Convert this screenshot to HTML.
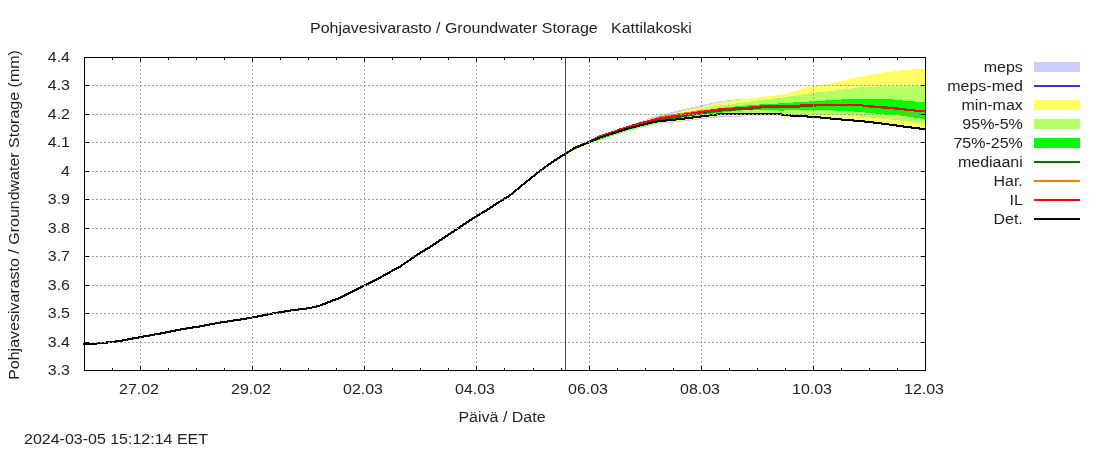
<!DOCTYPE html>
<html><head><meta charset="utf-8"><title>Pohjavesivarasto</title>
<style>
html,body{margin:0;padding:0;background:#fff;}
svg{display:block;}
text{font-family:"Liberation Sans",sans-serif;font-size:16px;fill:#1e1e1e;}
</style></head><body>
<svg width="1100" height="450" viewBox="0 0 1100 450">
<rect width="1100" height="450" fill="#fff"/>
<g shape-rendering="crispEdges">
<polygon points="565,154.0 566,153.3 567,152.7 568,152.1 569,151.4 570,150.8 571,150.1 572,149.4 573,148.8 574,148.2 575,147.5 576,147.1 577,146.6 578,146.2 579,145.7 580,145.3 581,144.8 582,144.4 583,144.0 584,143.5 585,143.1 586,142.6 587,142.2 588,141.7 589,141.3 590,140.8 591,140.3 592,139.9 593,139.4 594,138.9 595,138.4 596,137.9 597,137.4 598,137.0 599,136.5 600,136.0 601,135.7 602,135.3 603,135.0 604,134.6 605,134.3 606,134.0 607,133.6 608,133.3 609,132.9 610,132.6 611,132.3 612,131.9 613,131.6 614,131.2 615,130.9 616,130.6 617,130.2 618,129.9 619,129.5 620,129.2 621,128.9 622,128.5 623,128.2 624,127.8 625,127.5 626,127.2 627,126.8 628,126.5 629,126.1 630,125.7 631,125.3 632,124.9 633,124.5 634,124.1 635,123.7 636,123.3 637,122.9 638,122.5 639,122.0 640,121.6 641,121.3 642,120.9 643,120.5 644,120.2 645,119.8 646,119.4 647,119.0 648,118.7 649,118.3 650,117.9 651,117.6 652,117.2 653,116.9 654,116.6 655,116.3 656,116.0 657,115.8 658,115.5 659,115.3 660,115.0 661,114.8 662,114.5 663,114.3 664,114.0 665,113.8 666,113.5 667,113.3 668,113.0 669,112.8 670,112.5 671,112.3 672,112.0 673,111.8 674,111.5 675,111.3 676,111.0 677,110.8 678,110.6 679,110.3 680,110.1 681,109.8 682,109.6 683,109.4 684,109.1 685,108.9 686,108.7 687,108.4 688,108.2 689,108.0 690,107.7 691,107.5 692,107.3 693,107.0 694,106.8 695,106.6 696,106.4 697,106.1 698,105.9 699,105.7 700,105.4 701,105.2 702,105.0 703,104.8 704,104.6 705,104.4 706,104.2 707,104.0 708,103.8 709,103.5 710,103.3 711,103.1 712,102.9 713,102.7 714,102.5 715,102.3 716,102.1 717,101.9 718,101.6 719,101.4 720,101.2 721,101.1 722,101.0 723,100.9 724,100.8 725,100.6 726,100.5 727,100.4 728,100.3 729,100.1 730,100.0 731,99.9 732,99.7 733,99.6 734,99.5 735,99.3 736,99.2 737,99.1 738,99.0 739,98.8 740,98.7 741,98.6 742,98.5 743,98.4 743,116.8 742,116.8 741,116.8 740,116.8 739,116.8 738,116.8 737,116.8 736,116.8 735,116.8 734,116.8 733,116.8 732,116.9 731,116.9 730,116.9 729,116.9 728,116.9 727,116.9 726,116.9 725,116.9 724,116.9 723,116.9 722,116.9 721,116.9 720,116.9 719,117.0 718,117.1 717,117.3 716,117.4 715,117.5 714,117.6 713,117.7 712,117.9 711,118.0 710,118.1 709,118.2 708,118.4 707,118.5 706,118.6 705,118.7 704,118.8 703,119.0 702,119.1 701,119.2 700,119.3 699,119.5 698,119.6 697,119.7 696,119.9 695,120.0 694,120.1 693,120.2 692,120.4 691,120.5 690,120.6 689,120.8 688,120.9 687,121.0 686,121.2 685,121.3 684,121.4 683,121.5 682,121.6 681,121.7 680,121.8 679,122.0 678,122.1 677,122.2 676,122.3 675,122.4 674,122.5 673,122.6 672,122.7 671,122.8 670,122.9 669,123.0 668,123.1 667,123.1 666,123.2 665,123.3 664,123.4 663,123.5 662,123.6 661,123.7 660,123.8 659,124.0 658,124.2 657,124.3 656,124.5 655,124.7 654,124.9 653,125.1 652,125.2 651,125.4 650,125.6 649,125.8 648,126.1 647,126.3 646,126.6 645,126.8 644,127.1 643,127.3 642,127.6 641,127.8 640,128.1 639,128.4 638,128.6 637,128.9 636,129.1 635,129.4 634,129.7 633,129.9 632,130.2 631,130.4 630,130.7 629,131.0 628,131.3 627,131.6 626,131.9 625,132.2 624,132.5 623,132.8 622,133.1 621,133.4 620,133.7 619,134.0 618,134.4 617,134.7 616,135.0 615,135.4 614,135.6 613,135.8 612,136.1 611,136.3 610,136.5 609,136.8 608,137.0 607,137.2 606,137.5 605,137.7 604,138.0 603,138.2 602,138.4 601,138.7 600,138.9 599,139.2 598,139.6 597,139.9 596,140.2 595,140.6 594,140.9 593,141.2 592,141.6 591,141.9 590,142.2 589,142.6 588,142.9 587,143.2 586,143.5 585,143.8 584,144.2 583,144.6 582,145.0 581,145.4 580,145.8 579,146.2 578,146.6 577,147.0 576,147.4 575,147.8 574,148.4 573,149.0 572,149.7 571,150.3 570,150.9 569,151.5 568,152.1 567,152.8 566,153.4 565,154.0" fill="#ccccff"/>
<polygon points="565,154.0 566,153.3 567,152.7 568,152.1 569,151.4 570,150.8 571,150.1 572,149.4 573,148.8 574,148.2 575,147.5 576,147.1 577,146.6 578,146.2 579,145.7 580,145.3 581,144.8 582,144.4 583,144.0 584,143.5 585,143.1 586,142.6 587,142.2 588,141.7 589,141.3 590,140.8 591,140.3 592,139.9 593,139.4 594,138.9 595,138.4 596,137.9 597,137.4 598,137.0 599,136.5 600,136.0 601,135.7 602,135.3 603,135.0 604,134.6 605,134.3 606,134.0 607,133.6 608,133.3 609,132.9 610,132.6 611,132.3 612,131.9 613,131.6 614,131.2 615,130.9 616,130.6 617,130.2 618,129.9 619,129.5 620,129.2 621,128.9 622,128.5 623,128.2 624,127.8 625,127.5 626,127.2 627,126.8 628,126.5 629,126.1 630,125.8 631,125.5 632,125.1 633,124.8 634,124.4 635,124.1 636,123.8 637,123.4 638,123.1 639,122.7 640,122.4 641,122.1 642,121.8 643,121.5 644,121.2 645,120.9 646,120.5 647,120.2 648,119.9 649,119.6 650,119.3 651,119.0 652,118.7 653,118.5 654,118.2 655,118.0 656,117.7 657,117.5 658,117.2 659,117.0 660,116.7 661,116.5 662,116.2 663,116.0 664,115.7 665,115.5 666,115.2 667,115.0 668,114.7 669,114.5 670,114.2 671,114.0 672,113.7 673,113.5 674,113.2 675,113.0 676,112.7 677,112.5 678,112.3 679,112.0 680,111.8 681,111.5 682,111.3 683,111.1 684,110.8 685,110.6 686,110.4 687,110.1 688,109.9 689,109.7 690,109.4 691,109.2 692,109.0 693,108.8 694,108.5 695,108.3 696,108.1 697,107.8 698,107.6 699,107.4 700,107.1 701,106.9 702,106.7 703,106.4 704,106.2 705,105.9 706,105.7 707,105.4 708,105.2 709,104.9 710,104.7 711,104.4 712,104.2 713,103.9 714,103.7 715,103.4 716,103.2 717,102.9 718,102.7 719,102.4 720,102.2 721,102.1 722,101.9 723,101.8 724,101.7 725,101.5 726,101.4 727,101.3 728,101.2 729,101.0 730,100.9 731,100.8 732,100.6 733,100.5 734,100.4 735,100.2 736,100.1 737,100.0 738,99.9 739,99.7 740,99.6 741,99.5 742,99.4 743,99.3 744,99.2 745,99.0 746,98.9 747,98.8 748,98.7 749,98.6 750,98.5 751,98.4 752,98.3 753,98.2 754,98.1 755,98.0 756,97.8 757,97.7 758,97.6 759,97.5 760,97.4 761,97.2 762,97.1 763,96.9 764,96.8 765,96.6 766,96.4 767,96.3 768,96.1 769,96.0 770,95.8 771,95.7 772,95.7 773,95.6 774,95.6 775,95.5 776,95.4 777,95.4 778,95.3 779,95.3 780,95.2 781,95.0 782,94.7 783,94.5 784,94.2 785,94.0 786,93.8 787,93.5 788,93.3 789,93.0 790,92.8 791,92.4 792,92.0 793,91.7 794,91.3 795,90.9 796,90.5 797,90.1 798,89.8 799,89.4 800,89.0 801,88.8 802,88.5 803,88.3 804,88.1 805,87.8 806,87.6 807,87.4 808,87.2 809,86.9 810,86.7 811,86.5 812,86.2 813,86.0 814,85.9 815,85.7 816,85.6 817,85.4 818,85.3 819,85.1 820,85.0 821,84.8 822,84.7 823,84.5 824,84.4 825,84.2 826,84.1 827,83.9 828,83.8 829,83.6 830,83.5 831,83.3 832,83.0 833,82.8 834,82.6 835,82.4 836,82.2 837,81.9 838,81.7 839,81.5 840,81.2 841,81.0 842,80.8 843,80.6 844,80.3 845,80.1 846,79.9 847,79.7 848,79.5 849,79.2 850,79.0 851,78.8 852,78.6 853,78.4 854,78.2 855,78.0 856,77.8 857,77.6 858,77.4 859,77.2 860,77.0 861,76.8 862,76.6 863,76.4 864,76.2 865,76.0 866,75.8 867,75.6 868,75.4 869,75.2 870,75.0 871,74.8 872,74.6 873,74.4 874,74.2 875,74.0 876,73.8 877,73.6 878,73.4 879,73.2 880,73.0 881,72.9 882,72.8 883,72.6 884,72.5 885,72.4 886,72.2 887,72.1 888,72.0 889,71.9 890,71.8 891,71.6 892,71.5 893,71.4 894,71.2 895,71.1 896,71.0 897,70.9 898,70.8 899,70.6 900,70.5 901,70.4 902,70.3 903,70.2 904,70.1 905,70.0 906,69.9 907,69.8 908,69.7 909,69.6 910,69.5 911,69.4 912,69.3 913,69.2 914,69.1 915,69.0 916,69.0 917,69.0 918,69.0 919,69.0 920,69.0 921,69.0 922,69.0 923,69.0 924,69.0 925,69.0 925,129.5 924,129.4 923,129.3 922,129.2 921,129.1 920,129.0 919,128.9 918,128.8 917,128.7 916,128.6 915,128.5 914,128.4 913,128.2 912,128.1 911,128.0 910,127.8 909,127.7 908,127.6 907,127.4 906,127.3 905,127.2 904,127.0 903,126.9 902,126.8 901,126.6 900,126.5 899,126.4 898,126.2 897,126.1 896,126.0 895,125.8 894,125.7 893,125.6 892,125.4 891,125.3 890,125.2 889,125.0 888,124.9 887,124.7 886,124.6 885,124.5 884,124.3 883,124.2 882,124.1 881,123.9 880,123.8 879,123.7 878,123.6 877,123.5 876,123.3 875,123.2 874,123.1 873,123.0 872,122.9 871,122.8 870,122.7 869,122.5 868,122.4 867,122.3 866,122.2 865,122.1 864,122.0 863,121.8 862,121.7 861,121.6 860,121.5 859,121.4 858,121.3 857,121.3 856,121.2 855,121.1 854,121.0 853,120.9 852,120.9 851,120.8 850,120.7 849,120.6 848,120.5 847,120.5 846,120.4 845,120.3 844,120.2 843,120.1 842,120.0 841,119.9 840,119.8 839,119.8 838,119.7 837,119.6 836,119.5 835,119.4 834,119.3 833,119.2 832,119.1 831,119.0 830,118.9 829,118.8 828,118.7 827,118.6 826,118.5 825,118.4 824,118.3 823,118.2 822,118.1 821,118.0 820,117.9 819,117.8 818,117.7 817,117.6 816,117.5 815,117.4 814,117.3 813,117.2 812,117.2 811,117.1 810,117.1 809,117.0 808,117.0 807,116.9 806,116.9 805,116.8 804,116.8 803,116.8 802,116.7 801,116.7 800,116.6 799,117.9 798,117.8 797,117.8 796,117.7 795,117.6 794,117.6 793,117.5 792,117.4 791,117.3 790,117.3 789,117.2 788,117.1 787,117.0 786,117.0 785,116.9 784,116.8 783,116.6 782,116.4 781,116.3 780,116.1 779,115.9 778,115.9 777,115.9 776,115.9 775,115.9 774,115.9 773,115.9 772,115.9 771,115.9 770,115.9 769,115.8 768,115.8 767,115.8 766,115.8 765,115.8 764,115.8 763,115.8 762,115.8 761,115.8 760,115.8 759,115.8 758,115.8 757,115.8 756,115.8 755,115.8 754,115.8 753,115.8 752,115.8 751,115.8 750,115.8 749,115.8 748,115.8 747,115.8 746,115.8 745,115.8 744,115.8 743,115.8 742,115.8 741,115.8 740,115.8 739,115.8 738,115.8 737,115.8 736,115.8 735,115.8 734,115.8 733,115.8 732,115.9 731,115.9 730,115.9 729,115.9 728,115.9 727,115.9 726,115.9 725,115.9 724,115.9 723,115.9 722,115.9 721,115.9 720,115.9 719,116.0 718,116.1 717,116.3 716,116.4 715,116.5 714,116.6 713,116.7 712,116.9 711,117.0 710,117.1 709,117.2 708,117.4 707,117.5 706,117.6 705,117.7 704,117.8 703,118.0 702,118.1 701,118.2 700,118.3 699,118.5 698,118.6 697,118.7 696,118.9 695,119.0 694,119.1 693,119.2 692,119.4 691,119.5 690,119.6 689,119.8 688,119.9 687,120.0 686,120.2 685,120.3 684,120.4 683,120.5 682,120.6 681,120.7 680,120.8 679,121.0 678,121.1 677,121.2 676,121.3 675,121.4 674,121.5 673,121.6 672,121.7 671,121.8 670,121.9 669,122.0 668,122.1 667,122.1 666,122.2 665,122.4 664,122.5 663,122.7 662,122.9 661,123.0 660,123.2 659,123.3 658,123.5 657,123.6 656,123.8 655,124.0 654,124.1 653,124.3 652,124.4 651,124.6 650,124.8 649,125.1 648,125.3 647,125.5 646,125.7 645,126.0 644,126.2 643,126.4 642,126.6 641,126.9 640,127.1 639,127.4 638,127.7 637,128.0 636,128.3 635,128.6 634,128.9 633,129.2 632,129.5 631,129.8 630,130.1 629,130.3 628,130.6 627,130.9 626,131.2 625,131.5 624,131.8 623,132.1 622,132.4 621,132.7 620,133.0 619,133.3 618,133.7 617,134.1 616,134.4 615,134.8 614,135.1 613,135.4 612,135.8 611,136.2 610,136.5 609,136.8 608,137.2 607,137.6 606,137.9 605,138.2 604,138.6 603,138.9 602,139.3 601,139.7 600,140.0 599,140.3 598,140.6 597,140.9 596,141.2 595,141.5 594,141.9 593,142.3 592,142.7 591,143.1 590,143.6 589,144.0 588,144.4 587,144.8 586,145.2 585,145.6 584,146.0 583,146.4 582,146.8 581,147.2 580,147.6 579,148.0 578,148.4 577,148.8 576,149.2 575,149.6 574,150.2 573,150.8 572,151.5 571,152.1 570,152.7 569,153.3 568,153.9 567,154.6 566,155.2 565,155.8" fill="#ffff64"/>
<polygon points="565,154.0 566,153.3 567,152.7 568,152.1 569,151.4 570,150.8 571,150.1 572,149.4 573,148.8 574,148.2 575,147.5 576,147.1 577,146.6 578,146.2 579,145.8 580,145.3 581,144.9 582,144.4 583,144.0 584,143.6 585,143.1 586,142.7 587,142.3 588,141.8 589,141.4 590,140.9 591,140.5 592,140.0 593,139.5 594,139.0 595,138.6 596,138.1 597,137.6 598,137.1 599,136.7 600,136.2 601,135.9 602,135.5 603,135.2 604,134.9 605,134.6 606,134.2 607,133.9 608,133.6 609,133.2 610,132.9 611,132.6 612,132.2 613,131.9 614,131.5 615,131.2 616,130.9 617,130.5 618,130.2 619,129.8 620,129.5 621,129.2 622,128.8 623,128.5 624,128.2 625,127.8 626,127.5 627,127.2 628,126.9 629,126.5 630,126.2 631,125.9 632,125.5 633,125.2 634,124.9 635,124.6 636,124.2 637,123.9 638,123.6 639,123.2 640,122.9 641,122.7 642,122.4 643,122.2 644,121.9 645,121.7 646,121.4 647,121.2 648,120.9 649,120.7 650,120.4 651,120.2 652,120.0 653,119.8 654,119.5 655,119.3 656,119.1 657,118.9 658,118.7 659,118.5 660,118.2 661,118.0 662,117.8 663,117.6 664,117.4 665,117.2 666,116.9 667,116.7 668,116.5 669,116.3 670,116.1 671,115.8 672,115.6 673,115.4 674,115.2 675,115.0 676,114.8 677,114.5 678,114.3 679,114.1 680,113.9 681,113.7 682,113.5 683,113.2 684,113.0 685,112.8 686,112.6 687,112.4 688,112.2 689,112.0 690,111.8 691,111.6 692,111.4 693,111.2 694,110.9 695,110.7 696,110.5 697,110.3 698,110.1 699,109.9 700,109.7 701,109.5 702,109.3 703,109.1 704,108.9 705,108.7 706,108.4 707,108.2 708,108.0 709,107.8 710,107.6 711,107.4 712,107.2 713,107.0 714,106.8 715,106.6 716,106.3 717,106.1 718,105.9 719,105.7 720,105.5 721,105.4 722,105.2 723,105.1 724,105.0 725,104.9 726,104.8 727,104.6 728,104.5 729,104.4 730,104.2 731,104.1 732,104.0 733,103.9 734,103.8 735,103.6 736,103.5 737,103.4 738,103.2 739,103.1 740,103.0 741,102.9 742,102.7 743,102.6 744,102.5 745,102.3 746,102.2 747,102.1 748,101.9 749,101.8 750,101.7 751,101.5 752,101.4 753,101.2 754,101.1 755,101.0 756,100.8 757,100.7 758,100.6 759,100.4 760,100.3 761,100.1 762,100.0 763,99.8 764,99.6 765,99.4 766,99.3 767,99.1 768,98.9 769,98.8 770,98.6 771,98.5 772,98.5 773,98.4 774,98.4 775,98.3 776,98.2 777,98.2 778,98.1 779,98.1 780,98.0 781,97.8 782,97.7 783,97.5 784,97.4 785,97.2 786,97.0 787,96.9 788,96.7 789,96.6 790,96.4 791,96.3 792,96.1 793,96.0 794,95.8 795,95.7 796,95.5 797,95.4 798,95.2 799,95.1 800,94.9 801,94.8 802,94.6 803,94.5 804,94.3 805,94.2 806,94.0 807,93.9 808,93.7 809,93.6 810,93.4 811,93.3 812,93.1 813,93.0 814,92.9 815,92.8 816,92.7 817,92.6 818,92.4 819,92.3 820,92.2 821,92.1 822,92.0 823,91.9 824,91.8 825,91.7 826,91.6 827,91.4 828,91.3 829,91.2 830,91.1 831,91.0 832,90.9 833,90.8 834,90.7 835,90.6 836,90.4 837,90.3 838,90.2 839,90.1 840,90.0 841,89.9 842,89.7 843,89.6 844,89.5 845,89.3 846,89.2 847,89.1 848,89.0 849,88.8 850,88.7 851,88.5 852,88.4 853,88.2 854,88.1 855,88.0 856,87.8 857,87.7 858,87.5 859,87.4 860,87.2 861,87.2 862,87.1 863,87.0 864,87.0 865,87.0 866,86.9 867,86.9 868,86.8 869,86.8 870,86.7 871,86.7 872,86.6 873,86.6 874,86.6 875,86.6 876,86.5 877,86.5 878,86.5 879,86.4 880,86.4 881,86.4 882,86.4 883,86.3 884,86.3 885,86.3 886,86.3 887,86.3 888,86.2 889,86.2 890,86.2 891,86.2 892,86.2 893,86.1 894,86.1 895,86.1 896,86.1 897,86.1 898,86.0 899,86.0 900,86.0 901,86.0 902,86.0 903,86.0 904,86.0 905,86.0 906,86.0 907,86.0 908,86.0 909,86.0 910,86.0 911,86.0 912,86.0 913,86.0 914,86.0 915,86.0 916,86.0 917,86.0 918,86.0 919,86.0 920,86.0 921,86.0 922,86.0 923,86.0 924,86.0 925,86.0 925,124.0 924,123.9 923,123.7 922,123.6 921,123.4 920,123.3 919,123.2 918,123.0 917,122.9 916,122.7 915,122.6 914,122.5 913,122.3 912,122.2 911,122.0 910,121.9 909,121.8 908,121.6 907,121.5 906,121.3 905,121.2 904,121.1 903,120.9 902,120.8 901,120.6 900,120.5 899,120.4 898,120.3 897,120.2 896,120.1 895,120.0 894,119.8 893,119.7 892,119.6 891,119.5 890,119.4 889,119.3 888,119.2 887,119.1 886,119.0 885,118.8 884,118.7 883,118.6 882,118.5 881,118.4 880,118.3 879,118.2 878,118.1 877,118.0 876,117.9 875,117.8 874,117.8 873,117.7 872,117.6 871,117.5 870,117.4 869,117.3 868,117.2 867,117.1 866,117.0 865,117.0 864,116.9 863,116.8 862,116.7 861,116.6 860,116.5 859,116.4 858,116.3 857,116.2 856,116.2 855,116.1 854,116.0 853,115.9 852,115.8 851,115.7 850,115.7 849,115.6 848,115.5 847,115.4 846,115.3 845,115.2 844,115.1 843,115.1 842,115.0 841,114.9 840,114.8 839,114.8 838,114.8 837,114.9 836,114.9 835,114.9 834,114.9 833,114.9 832,114.9 831,115.0 830,115.0 829,115.0 828,115.0 827,115.0 826,115.1 825,115.1 824,115.1 823,115.1 822,115.1 821,115.2 820,115.2 819,115.2 818,115.2 817,115.2 816,115.2 815,115.3 814,115.3 813,115.3 812,115.3 811,115.2 810,115.2 809,115.2 808,115.1 807,115.1 806,115.1 805,115.0 804,115.0 803,115.0 802,115.0 801,114.9 800,114.9 799,114.9 798,114.8 797,114.8 796,114.7 795,114.7 794,114.6 793,114.5 792,114.4 791,114.4 790,114.3 789,114.2 788,114.2 787,114.1 786,114.0 785,113.9 784,113.9 783,113.8 782,113.8 781,113.7 780,113.7 779,113.7 778,113.6 777,113.6 776,113.6 775,113.5 774,113.5 773,113.5 772,113.4 771,113.4 770,113.3 769,113.3 768,113.3 767,113.2 766,113.2 765,113.2 764,113.1 763,113.1 762,113.1 761,113.0 760,113.0 759,113.0 758,113.0 757,113.1 756,113.1 755,113.1 754,113.2 753,113.2 752,113.2 751,113.2 750,113.2 749,113.3 748,113.3 747,113.3 746,113.3 745,113.4 744,113.4 743,113.4 742,113.5 741,113.5 740,113.5 739,113.6 738,113.7 737,113.7 736,113.8 735,113.9 734,114.0 733,114.0 732,114.1 731,114.2 730,114.2 729,114.3 728,114.4 727,114.5 726,114.5 725,114.6 724,114.7 723,114.8 722,114.8 721,114.9 720,115.0 719,115.1 718,115.2 717,115.3 716,115.4 715,115.5 714,115.6 713,115.7 712,115.8 711,115.9 710,116.1 709,116.2 708,116.3 707,116.4 706,116.5 705,116.6 704,116.7 703,116.8 702,116.9 701,117.0 700,117.1 699,117.3 698,117.4 697,117.5 696,117.7 695,117.8 694,118.0 693,118.1 692,118.2 691,118.4 690,118.5 689,118.7 688,118.8 687,118.9 686,119.1 685,119.2 684,119.4 683,119.5 682,119.7 681,119.8 680,120.0 679,120.2 678,120.3 677,120.5 676,120.6 675,120.8 674,120.9 673,121.1 672,121.3 671,121.4 670,121.6 669,121.7 668,121.9 667,122.1 666,122.2 665,122.4 664,122.5 663,122.7 662,122.9 661,123.0 660,123.2 659,123.3 658,123.5 657,123.6 656,123.8 655,124.0 654,124.1 653,124.3 652,124.4 651,124.6 650,124.8 649,125.1 648,125.3 647,125.5 646,125.7 645,126.0 644,126.2 643,126.4 642,126.6 641,126.9 640,127.1 639,127.4 638,127.7 637,128.0 636,128.3 635,128.6 634,128.9 633,129.2 632,129.5 631,129.8 630,130.1 629,130.3 628,130.6 627,130.9 626,131.2 625,131.5 624,131.8 623,132.1 622,132.4 621,132.7 620,133.0 619,133.3 618,133.7 617,134.1 616,134.4 615,134.8 614,135.1 613,135.4 612,135.8 611,136.2 610,136.5 609,136.8 608,137.2 607,137.6 606,137.9 605,138.2 604,138.6 603,138.9 602,139.3 601,139.7 600,140.0 599,140.3 598,140.6 597,140.9 596,141.2 595,141.5 594,141.8 593,142.1 592,142.4 591,142.7 590,143.0 589,143.3 588,143.7 587,144.2 586,144.6 585,145.1 584,145.5 583,146.0 582,146.4 581,146.9 580,147.3 579,147.8 578,148.2 577,148.7 576,149.1 575,149.5 574,150.0 573,150.4 572,150.9 571,151.3 570,151.8 569,152.2 568,152.7 567,153.1 566,153.6 565,154.0" fill="#b4ff64"/>
<polygon points="565,154.0 566,153.4 567,152.7 568,152.1 569,151.4 570,150.8 571,150.2 572,149.5 573,148.9 574,148.2 575,147.6 576,147.2 577,146.7 578,146.3 579,145.9 580,145.4 581,145.0 582,144.6 583,144.1 584,143.7 585,143.2 586,142.8 587,142.4 588,141.9 589,141.5 590,141.0 591,140.6 592,140.1 593,139.6 594,139.1 595,138.7 596,138.2 597,137.7 598,137.2 599,136.8 600,136.3 601,136.0 602,135.6 603,135.3 604,135.0 605,134.7 606,134.3 607,134.0 608,133.7 609,133.3 610,133.0 611,132.7 612,132.3 613,132.0 614,131.6 615,131.3 616,131.0 617,130.6 618,130.3 619,129.9 620,129.6 621,129.3 622,129.0 623,128.7 624,128.4 625,128.1 626,127.7 627,127.4 628,127.1 629,126.8 630,126.5 631,126.2 632,125.9 633,125.5 634,125.2 635,124.9 636,124.6 637,124.3 638,123.9 639,123.6 640,123.3 641,123.1 642,122.9 643,122.7 644,122.5 645,122.3 646,122.2 647,122.0 648,121.8 649,121.6 650,121.4 651,121.2 652,121.0 653,120.8 654,120.6 655,120.4 656,120.2 657,120.0 658,119.8 659,119.6 660,119.4 661,119.2 662,119.0 663,118.8 664,118.6 665,118.4 666,118.2 667,118.0 668,117.8 669,117.5 670,117.3 671,117.1 672,116.9 673,116.7 674,116.5 675,116.3 676,116.1 677,115.9 678,115.7 679,115.5 680,115.3 681,115.1 682,114.9 683,114.7 684,114.5 685,114.3 686,114.1 687,113.9 688,113.7 689,113.5 690,113.3 691,113.1 692,112.9 693,112.8 694,112.6 695,112.4 696,112.2 697,112.0 698,111.8 699,111.6 700,111.4 701,111.2 702,111.0 703,110.9 704,110.7 705,110.5 706,110.4 707,110.2 708,110.0 709,109.9 710,109.7 711,109.5 712,109.3 713,109.2 714,109.0 715,108.8 716,108.7 717,108.5 718,108.3 719,108.2 720,108.0 721,107.9 722,107.8 723,107.7 724,107.6 725,107.5 726,107.4 727,107.3 728,107.2 729,107.1 730,107.0 731,106.9 732,106.8 733,106.7 734,106.6 735,106.5 736,106.4 737,106.3 738,106.2 739,106.1 740,106.0 741,105.9 742,105.8 743,105.8 744,105.7 745,105.6 746,105.5 747,105.4 748,105.4 749,105.3 750,105.2 751,105.1 752,105.0 753,105.0 754,104.9 755,104.8 756,104.7 757,104.6 758,104.6 759,104.5 760,104.4 761,104.4 762,104.4 763,104.3 764,104.3 765,104.3 766,104.3 767,104.3 768,104.2 769,104.2 770,104.2 771,104.1 772,104.0 773,103.9 774,103.8 775,103.8 776,103.7 777,103.6 778,103.5 779,103.4 780,103.3 781,103.2 782,103.2 783,103.1 784,103.0 785,103.0 786,102.9 787,102.8 788,102.8 789,102.7 790,102.7 791,102.6 792,102.5 793,102.5 794,102.4 795,102.3 796,102.3 797,102.2 798,102.1 799,102.1 800,102.0 801,101.9 802,101.9 803,101.8 804,101.8 805,101.7 806,101.6 807,101.6 808,101.5 809,101.5 810,101.4 811,101.3 812,101.3 813,101.2 814,101.2 815,101.1 816,101.0 817,101.0 818,100.9 819,100.9 820,100.8 821,100.7 822,100.7 823,100.6 824,100.6 825,100.5 826,100.4 827,100.4 828,100.3 829,100.3 830,100.2 831,100.1 832,100.1 833,100.0 834,99.9 835,99.9 836,99.8 837,99.7 838,99.7 839,99.6 840,99.6 841,99.5 842,99.4 843,99.4 844,99.3 845,99.2 846,99.2 847,99.1 848,99.0 849,99.0 850,98.9 851,98.9 852,98.9 853,98.9 854,98.9 855,98.9 856,98.9 857,98.9 858,98.9 859,98.9 860,98.9 861,98.9 862,98.9 863,98.9 864,98.9 865,98.9 866,98.9 867,98.9 868,98.9 869,98.9 870,98.9 871,98.9 872,98.9 873,98.9 874,98.9 875,98.9 876,98.9 877,98.9 878,98.9 879,98.9 880,98.9 881,98.9 882,98.9 883,98.9 884,98.9 885,98.9 886,98.9 887,98.9 888,98.9 889,99.0 890,99.1 891,99.2 892,99.3 893,99.4 894,99.6 895,99.7 896,99.8 897,99.9 898,100.0 899,100.1 900,100.2 901,100.3 902,100.4 903,100.5 904,100.6 905,100.6 906,100.7 907,100.8 908,100.9 909,101.0 910,101.1 911,101.2 912,101.3 913,101.3 914,101.4 915,101.5 916,101.6 917,101.7 918,101.8 919,101.9 920,102.0 921,102.0 922,102.1 923,102.2 924,102.3 925,102.4 925,119.0 924,118.9 923,118.7 922,118.6 921,118.4 920,118.3 919,118.2 918,118.0 917,117.9 916,117.7 915,117.6 914,117.5 913,117.3 912,117.2 911,117.0 910,116.9 909,116.8 908,116.6 907,116.5 906,116.3 905,116.2 904,116.1 903,115.9 902,115.8 901,115.6 900,115.5 899,115.4 898,115.3 897,115.3 896,115.2 895,115.1 894,115.0 893,115.0 892,114.9 891,114.8 890,114.8 889,114.7 888,114.6 887,114.5 886,114.5 885,114.4 884,114.3 883,114.2 882,114.2 881,114.1 880,114.0 879,113.9 878,113.8 877,113.7 876,113.6 875,113.5 874,113.4 873,113.3 872,113.2 871,113.1 870,113.0 869,112.9 868,112.8 867,112.7 866,112.6 865,112.5 864,112.4 863,112.3 862,112.2 861,112.1 860,112.0 859,111.9 858,111.8 857,111.8 856,111.7 855,111.6 854,111.5 853,111.5 852,111.4 851,111.3 850,111.2 849,111.2 848,111.1 847,111.0 846,111.0 845,110.9 844,110.8 843,110.7 842,110.7 841,110.6 840,110.5 839,110.5 838,110.5 837,110.5 836,110.5 835,110.4 834,110.4 833,110.4 832,110.4 831,110.4 830,110.4 829,110.4 828,110.3 827,110.3 826,110.3 825,110.3 824,110.3 823,110.3 822,110.3 821,110.3 820,110.2 819,110.2 818,110.2 817,110.2 816,110.2 815,110.2 814,110.2 813,110.2 812,110.2 811,110.1 810,110.1 809,110.1 808,110.1 807,110.1 806,110.1 805,110.1 804,110.0 803,110.0 802,110.0 801,110.0 800,110.0 799,110.0 798,110.1 797,110.1 796,110.1 795,110.2 794,110.2 793,110.2 792,110.2 791,110.3 790,110.3 789,110.3 788,110.4 787,110.4 786,110.4 785,110.4 784,110.5 783,110.5 782,110.5 781,110.6 780,110.6 779,110.5 778,110.5 777,110.4 776,110.4 775,110.3 774,110.3 773,110.2 772,110.2 771,110.1 770,110.1 769,110.0 768,110.0 767,109.9 766,109.9 765,109.8 764,109.8 763,109.8 762,109.7 761,109.6 760,109.6 759,109.6 758,109.7 757,109.7 756,109.8 755,109.8 754,109.9 753,109.9 752,110.0 751,110.0 750,110.0 749,110.1 748,110.1 747,110.2 746,110.2 745,110.3 744,110.3 743,110.4 742,110.4 741,110.5 740,110.5 739,110.6 738,110.7 737,110.8 736,111.0 735,111.1 734,111.2 733,111.3 732,111.4 731,111.5 730,111.7 729,111.8 728,111.9 727,112.0 726,112.1 725,112.2 724,112.3 723,112.5 722,112.6 721,112.7 720,112.8 719,112.9 718,113.0 717,113.1 716,113.2 715,113.3 714,113.4 713,113.5 712,113.6 711,113.7 710,113.7 709,113.8 708,113.9 707,114.0 706,114.1 705,114.2 704,114.3 703,114.4 702,114.5 701,114.6 700,114.8 699,114.9 698,115.1 697,115.2 696,115.4 695,115.6 694,115.7 693,115.9 692,116.1 691,116.2 690,116.4 689,116.5 688,116.7 687,116.9 686,117.0 685,117.2 684,117.4 683,117.6 682,117.8 681,118.0 680,118.2 679,118.4 678,118.6 677,118.8 676,119.0 675,119.2 674,119.4 673,119.6 672,119.8 671,120.0 670,120.2 669,120.4 668,120.6 667,120.8 666,121.0 665,121.2 664,121.4 663,121.6 662,121.8 661,122.0 660,122.2 659,122.4 658,122.6 657,122.8 656,123.0 655,123.2 654,123.4 653,123.6 652,123.8 651,124.0 650,124.2 649,124.5 648,124.7 647,124.9 646,125.2 645,125.4 644,125.7 643,125.9 642,126.1 641,126.4 640,126.6 639,126.9 638,127.2 637,127.5 636,127.8 635,128.1 634,128.4 633,128.7 632,129.0 631,129.3 630,129.6 629,129.8 628,130.1 627,130.4 626,130.7 625,131.0 624,131.3 623,131.6 622,131.9 621,132.2 620,132.5 619,132.9 618,133.2 617,133.6 616,133.9 615,134.3 614,134.6 613,135.0 612,135.3 611,135.7 610,136.1 609,136.4 608,136.8 607,137.1 606,137.5 605,137.8 604,138.2 603,138.5 602,138.9 601,139.2 600,139.6 599,139.9 598,140.2 597,140.5 596,140.8 595,141.1 594,141.5 593,141.8 592,142.1 591,142.4 590,142.7 589,143.0 588,143.5 587,143.9 586,144.4 585,144.8 584,145.3 583,145.8 582,146.2 581,146.7 580,147.1 579,147.6 578,148.0 577,148.5 576,149.0 575,149.4 574,149.9 573,150.3 572,150.8 571,151.2 570,151.7 569,152.2 568,152.6 567,153.1 566,153.5 565,154.0" fill="#00ff00"/>
<polyline points="565,154.0 566,153.4 567,152.7 568,152.1 569,151.5 570,150.8 571,150.2 572,149.5 573,148.9 574,148.3 575,147.6 576,147.2 577,146.8 578,146.4 579,146.0 580,145.6 581,145.2 582,144.7 583,144.3 584,143.9 585,143.5 586,143.1 587,142.7 588,142.3 589,141.8 590,141.4 591,140.9 592,140.4 593,139.9 594,139.5 595,139.0 596,138.5 597,138.0 598,137.6 599,137.1 600,136.6 601,136.3 602,136.0 603,135.7 604,135.4 605,135.1 606,134.8 607,134.5 608,134.2 609,133.9 610,133.6 611,133.3 612,133.0 613,132.6 614,132.3 615,132.0 616,131.7 617,131.4 618,131.1 619,130.8 620,130.5 621,130.2 622,129.9 623,129.6 624,129.3 625,129.0 626,128.8 627,128.5 628,128.2 629,127.9 630,127.6 631,127.4 632,127.1 633,126.8 634,126.5 635,126.3 636,126.0 637,125.7 638,125.4 639,125.2 640,124.9 641,124.6 642,124.4 643,124.1 644,123.9 645,123.6 646,123.4 647,123.1 648,122.8 649,122.6 650,122.3 651,122.1 652,121.8 653,121.6 654,121.3 655,121.1 656,120.8 657,120.6 658,120.3 659,120.1 660,119.8 661,119.7 662,119.5 663,119.3 664,119.2 665,119.0 666,118.8 667,118.6 668,118.5 669,118.3 670,118.1 671,118.0 672,117.8 673,117.6 674,117.5 675,117.3 676,117.2 677,117.0 678,116.9 679,116.7 680,116.6 681,116.4 682,116.3 683,116.1 684,116.0 685,115.8 686,115.7 687,115.5 688,115.4 689,115.2 690,115.0 691,114.9 692,114.7 693,114.6 694,114.4 695,114.2 696,114.1 697,113.9 698,113.8 699,113.6 700,113.4 701,113.3 702,113.1 703,113.0 704,112.8 705,112.7 706,112.6 707,112.4 708,112.3 709,112.1 710,112.0 711,111.9 712,111.7 713,111.6 714,111.4 715,111.3 716,111.2 717,111.0 718,110.9 719,110.7 720,110.6 721,110.5 722,110.5 723,110.4 724,110.3 725,110.3 726,110.2 727,110.1 728,110.0 729,110.0 730,109.9 731,109.8 732,109.8 733,109.7 734,109.6 735,109.6 736,109.5 737,109.4 738,109.4 739,109.3 740,109.2 741,109.2 742,109.1 743,109.0 744,109.0 745,108.9 746,108.9 747,108.8 748,108.8 749,108.7 750,108.6 751,108.6 752,108.5 753,108.5 754,108.4 755,108.3 756,108.3 757,108.2 758,108.2 759,107.9 760,107.7 761,107.4 762,107.1 763,107.1 764,107.1 765,107.1 766,107.1 767,107.1 768,107.1 769,107.1 770,107.1 771,107.1 772,107.1 773,107.1 774,107.1 775,107.1 776,107.1 777,107.1 778,107.1 779,107.1 780,107.1 781,107.1 782,107.1 783,107.1 784,107.1 785,107.1 786,107.1 787,107.0 788,107.0 789,107.0 790,107.0 791,107.0 792,107.0 793,107.0 794,107.0 795,107.0 796,107.0 797,107.0 798,107.0 799,107.0 800,106.5 801,106.0 802,105.9 803,105.9 804,105.9 805,105.8 806,105.8 807,105.8 808,105.7 809,105.7 810,105.7 811,105.6 812,105.6 813,105.6 814,105.5 815,105.5 816,105.5 817,105.4 818,105.4 819,105.4 820,105.3 821,105.3 822,105.3 823,105.2 824,105.2 825,105.2 826,105.1 827,105.1 828,105.1 829,105.0 830,105.0 831,105.0 832,105.0 833,105.0 834,105.0 835,104.9 836,104.9 837,104.9 838,104.9 839,104.9 840,104.9 841,104.9 842,104.9 843,104.9 844,104.8 845,104.8 846,104.8 847,104.8 848,104.8 849,104.8 850,104.8 851,104.8 852,104.8 853,104.7 854,104.7 855,104.7 856,104.7 857,104.7 858,104.7 859,104.7 860,104.7 861,104.7 862,105.1 863,105.6 864,105.7 865,105.8 866,105.8 867,105.9 868,106.0 869,106.1 870,106.1 871,106.2 872,106.3 873,106.4 874,106.5 875,106.5 876,106.6 877,106.7 878,106.8 879,106.8 880,106.9 881,107.0 882,107.0 883,107.1 884,107.2 885,107.3 886,107.3 887,107.4 888,107.5 889,107.5 890,107.6 891,107.8 892,107.9 893,108.0 894,108.1 895,108.2 896,108.3 897,108.4 898,108.6 899,108.7 900,108.8 901,108.9 902,109.0 903,109.1 904,109.2 905,109.3 906,109.5 907,109.6 908,109.7 909,109.8 910,109.9 911,110.0 912,110.1 913,110.2 914,110.4 915,110.5 916,110.6 917,110.7 918,110.8 919,110.9 920,111.0 921,111.0 922,111.1 923,111.2 924,111.2 925,111.3" fill="none" stroke="#007800" stroke-width="2" stroke-linejoin="round"/>
<polyline points="565,154.0 566,153.3 567,152.7 568,152.1 569,151.4 570,150.8 571,150.1 572,149.4 573,148.8 574,148.2 575,147.5 576,147.1 577,146.6 578,146.2 579,145.8 580,145.4 581,144.9 582,144.5 583,144.1 584,143.6 585,143.2 586,142.8 587,142.4 588,141.9 589,141.5 590,141.0 591,140.5 592,140.0 593,139.5 594,139.0 595,138.6 596,138.1 597,137.6 598,137.1 599,136.6 600,136.1 601,135.8 602,135.4 603,135.1 604,134.8 605,134.4 606,134.1 607,133.8 608,133.5 609,133.1 610,132.8 611,132.5 612,132.1 613,131.8 614,131.4 615,131.1 616,130.8 617,130.4 618,130.1 619,129.7 620,129.4 621,129.1 622,128.8 623,128.5 624,128.2 625,127.8 626,127.5 627,127.2 628,126.9 629,126.6 630,126.3 631,126.0 632,125.7 633,125.4 634,125.1 635,124.8 636,124.5 637,124.2 638,123.9 639,123.6 640,123.3 641,123.0 642,122.8 643,122.5 644,122.3 645,122.0 646,121.8 647,121.5 648,121.3 649,120.9 650,120.6 651,120.2 652,119.9 653,119.6 654,119.3 655,118.9 656,118.6 657,118.3 658,118.0 659,117.6 660,117.3 661,117.1 662,117.0 663,116.8 664,116.6 665,116.5 666,116.3 667,116.2 668,116.0 669,115.8 670,115.7 671,115.5 672,115.3 673,115.2 674,115.0 675,114.9 676,114.7 677,114.6 678,114.4 679,114.3 680,114.1 681,114.0 682,113.8 683,113.7 684,113.5 685,113.4 686,113.2 687,113.1 688,112.9 689,112.8 690,112.6 691,112.5 692,112.3 693,112.2 694,112.0 695,111.8 696,111.7 697,111.5 698,111.4 699,111.2 700,111.1 701,111.0 702,110.9 703,110.9 704,110.8 705,110.8 706,110.7 707,110.7 708,110.6 709,110.6 710,110.5 711,110.4 712,110.4 713,110.3 714,110.1 715,110.0 716,109.8 717,109.7 718,109.6 719,109.4 720,109.3 721,109.2 722,109.2 723,109.1 724,109.0 725,109.0 726,108.9 727,108.8 728,108.8 729,108.7 730,108.7 731,108.6 732,108.5 733,108.5 734,108.4 735,108.3 736,108.3 737,108.2 738,108.1 739,108.1 740,108.0 741,107.9 742,107.9 743,107.8 744,107.8 745,107.7 746,107.7 747,107.6 748,107.6 749,107.5 750,107.4 751,107.4 752,107.3 753,107.3 754,107.2 755,107.2 756,107.1 757,107.1 758,107.0 759,106.8 760,106.5 761,106.2 762,106.0 763,106.0 764,106.0 765,106.0 766,106.0 767,106.0 768,106.0 769,106.0 770,106.0 771,106.0 772,106.0 773,106.0 774,106.0 775,106.0 776,106.0 777,106.0 778,106.0 779,106.0 780,106.0 781,106.0 782,106.0 783,106.0 784,106.0 785,106.0 786,106.0 787,106.0 788,106.0 789,106.0 790,106.0 791,106.0 792,106.0 793,106.0 794,106.0 795,106.0 796,106.0 797,106.0 798,106.0 799,106.0 800,105.5 801,105.0 802,105.0 803,105.0 804,105.0 805,105.0 806,105.0 807,105.0 808,105.0 809,105.0 810,105.0 811,105.0 812,105.0 813,105.0 814,105.0 815,105.0 816,105.0 817,105.0 818,105.0 819,105.0 820,105.0 821,105.0 822,105.0 823,105.0 824,105.0 825,105.0 826,105.0 827,105.0 828,105.0 829,105.0 830,105.0 831,105.0 832,105.0 833,105.0 834,105.0 835,105.0 836,105.0 837,105.0 838,105.0 839,105.0 840,105.0 841,105.0 842,105.0 843,105.0 844,105.0 845,105.0 846,105.0 847,105.0 848,105.0 849,105.0 850,105.0 851,105.0 852,105.0 853,105.0 854,105.0 855,105.0 856,105.0 857,105.0 858,105.0 859,105.0 860,105.0 861,105.0 862,105.5 863,106.0 864,106.1 865,106.2 866,106.2 867,106.3 868,106.4 869,106.5 870,106.6 871,106.7 872,106.8 873,106.8 874,106.9 875,107.0 876,107.1 877,107.1 878,107.2 879,107.3 880,107.4 881,107.4 882,107.5 883,107.6 884,107.6 885,107.7 886,107.8 887,107.9 888,107.9 889,108.0 890,108.1 891,108.2 892,108.3 893,108.4 894,108.5 895,108.6 896,108.7 897,108.8 898,108.9 899,109.0 900,109.1 901,109.2 902,109.3 903,109.4 904,109.5 905,109.6 906,109.7 907,109.8 908,109.9 909,110.0 910,110.1 911,110.2 912,110.3 913,110.4 914,110.5 915,110.6 916,110.7 917,110.8 918,110.9 919,111.0 920,111.0 921,111.1 922,111.2 923,111.2 924,111.2 925,111.3" fill="none" stroke="#ff7800" stroke-width="2" stroke-linejoin="round"/>
<polyline points="565,154.0 566,153.3 567,152.7 568,152.1 569,151.4 570,150.8 571,150.1 572,149.4 573,148.8 574,148.2 575,147.5 576,147.1 577,146.6 578,146.2 579,145.8 580,145.4 581,144.9 582,144.5 583,144.1 584,143.6 585,143.2 586,142.8 587,142.4 588,141.9 589,141.5 590,141.0 591,140.5 592,140.0 593,139.5 594,139.0 595,138.6 596,138.1 597,137.6 598,137.1 599,136.6 600,136.1 601,135.8 602,135.4 603,135.1 604,134.8 605,134.4 606,134.1 607,133.8 608,133.5 609,133.1 610,132.8 611,132.5 612,132.1 613,131.8 614,131.4 615,131.1 616,130.8 617,130.4 618,130.1 619,129.7 620,129.4 621,129.1 622,128.8 623,128.5 624,128.2 625,127.8 626,127.5 627,127.2 628,126.9 629,126.6 630,126.3 631,126.0 632,125.7 633,125.4 634,125.1 635,124.8 636,124.5 637,124.2 638,123.9 639,123.6 640,123.3 641,123.0 642,122.8 643,122.5 644,122.3 645,122.0 646,121.8 647,121.5 648,121.3 649,121.0 650,120.8 651,120.5 652,120.3 653,120.0 654,119.8 655,119.5 656,119.3 657,119.0 658,118.8 659,118.5 660,118.3 661,118.1 662,118.0 663,117.8 664,117.6 665,117.5 666,117.3 667,117.2 668,117.0 669,116.8 670,116.7 671,116.5 672,116.3 673,116.2 674,116.0 675,115.9 676,115.7 677,115.6 678,115.4 679,115.3 680,115.1 681,115.0 682,114.8 683,114.7 684,114.5 685,114.4 686,114.2 687,114.1 688,113.9 689,113.8 690,113.6 691,113.5 692,113.3 693,113.2 694,113.0 695,112.8 696,112.7 697,112.5 698,112.4 699,112.2 700,112.1 701,111.9 702,111.8 703,111.6 704,111.5 705,111.4 706,111.2 707,111.1 708,110.9 709,110.8 710,110.7 711,110.5 712,110.4 713,110.3 714,110.1 715,110.0 716,109.8 717,109.7 718,109.6 719,109.4 720,109.3 721,109.2 722,109.2 723,109.1 724,109.0 725,109.0 726,108.9 727,108.8 728,108.8 729,108.7 730,108.7 731,108.6 732,108.5 733,108.5 734,108.4 735,108.3 736,108.3 737,108.2 738,108.1 739,108.1 740,108.0 741,107.9 742,107.9 743,107.8 744,107.8 745,107.7 746,107.7 747,107.6 748,107.6 749,107.5 750,107.4 751,107.4 752,107.3 753,107.3 754,107.2 755,107.2 756,107.1 757,107.1 758,107.0 759,106.8 760,106.5 761,106.2 762,106.0 763,106.0 764,106.0 765,106.0 766,106.0 767,106.0 768,106.0 769,106.0 770,106.0 771,106.0 772,106.0 773,106.0 774,106.0 775,106.0 776,106.0 777,106.0 778,106.0 779,106.0 780,106.0 781,106.0 782,106.0 783,106.0 784,106.0 785,106.0 786,106.0 787,106.0 788,106.0 789,106.0 790,106.0 791,106.0 792,106.0 793,106.0 794,106.0 795,106.0 796,106.0 797,106.0 798,106.0 799,106.0 800,105.5 801,105.0 802,105.0 803,105.0 804,105.0 805,105.0 806,105.0 807,105.0 808,105.0 809,105.0 810,105.0 811,105.0 812,105.0 813,105.0 814,105.0 815,105.0 816,105.0 817,105.0 818,105.0 819,105.0 820,105.0 821,105.0 822,105.0 823,105.0 824,105.0 825,105.0 826,105.0 827,105.0 828,105.0 829,105.0 830,105.0 831,105.0 832,105.0 833,105.0 834,105.0 835,105.0 836,105.0 837,105.0 838,105.0 839,105.0 840,105.0 841,105.0 842,105.0 843,105.0 844,105.0 845,105.0 846,105.0 847,105.0 848,105.0 849,105.0 850,105.0 851,105.0 852,105.0 853,105.0 854,105.0 855,105.0 856,105.0 857,105.0 858,105.0 859,105.0 860,105.0 861,105.0 862,105.5 863,106.0 864,106.1 865,106.2 866,106.2 867,106.3 868,106.4 869,106.5 870,106.6 871,106.7 872,106.8 873,106.8 874,106.9 875,107.0 876,107.1 877,107.1 878,107.2 879,107.3 880,107.4 881,107.4 882,107.5 883,107.6 884,107.6 885,107.7 886,107.8 887,107.9 888,107.9 889,108.0 890,108.1 891,108.2 892,108.3 893,108.4 894,108.5 895,108.6 896,108.7 897,108.8 898,108.9 899,109.0 900,109.1 901,109.2 902,109.3 903,109.4 904,109.5 905,109.6 906,109.7 907,109.8 908,109.9 909,110.0 910,110.1 911,110.2 912,110.3 913,110.4 914,110.5 915,110.6 916,110.7 917,110.8 918,110.9 919,111.0 920,111.0 921,111.1 922,111.2 923,111.2 924,111.2 925,111.3" fill="none" stroke="#ff0000" stroke-width="2" stroke-linejoin="round"/>
<polygon points="83,343.0 84,343.0 85,343.0 86,343.0 87,342.9 88,342.9 89,342.9 90,342.9 91,342.9 92,342.9 93,342.8 94,342.7 95,342.6 96,342.5 97,342.4 98,342.3 99,342.2 100,342.2 101,342.1 102,342.0 103,341.9 104,341.8 105,341.6 106,341.5 107,341.4 108,341.3 109,341.2 110,341.1 111,341.0 112,340.9 113,340.8 114,340.7 115,340.5 116,340.4 117,340.3 118,340.2 119,340.1 120,339.9 121,339.7 122,339.5 123,339.3 124,339.2 125,339.0 126,338.8 127,338.6 128,338.4 129,338.2 130,338.0 131,337.8 132,337.6 133,337.4 134,337.3 135,337.1 136,336.9 137,336.7 138,336.5 139,336.3 140,336.1 141,335.9 142,335.8 143,335.6 144,335.4 145,335.2 146,335.0 147,334.9 148,334.7 149,334.5 150,334.3 151,334.1 152,334.0 153,333.8 154,333.6 155,333.4 156,333.2 157,333.1 158,332.9 159,332.7 160,332.5 161,332.3 162,332.1 163,331.9 164,331.7 165,331.5 166,331.3 167,331.1 168,330.9 169,330.7 170,330.5 171,330.3 172,330.1 173,329.9 174,329.7 175,329.5 176,329.3 177,329.1 178,328.9 179,328.7 180,328.5 181,328.4 182,328.2 183,328.0 184,327.9 185,327.7 186,327.6 187,327.4 188,327.2 189,327.1 190,326.9 191,326.8 192,326.6 193,326.4 194,326.3 195,326.1 196,326.0 197,325.8 198,325.6 199,325.5 200,325.3 201,325.1 202,324.9 203,324.7 204,324.6 205,324.4 206,324.2 207,324.0 208,323.8 209,323.6 210,323.4 211,323.2 212,323.0 213,322.8 214,322.7 215,322.5 216,322.3 217,322.1 218,321.9 219,321.7 220,321.5 221,321.4 222,321.2 223,321.1 224,320.9 225,320.8 226,320.6 227,320.5 228,320.3 229,320.2 230,320.0 231,319.9 232,319.7 233,319.6 234,319.4 235,319.3 236,319.1 237,319.0 238,318.8 239,318.7 240,318.5 241,318.4 242,318.2 243,318.0 244,317.9 245,317.7 246,317.5 247,317.4 248,317.2 249,317.0 250,316.9 251,316.7 252,316.5 253,316.3 254,316.1 255,315.9 256,315.7 257,315.5 258,315.3 259,315.1 260,314.9 261,314.7 262,314.5 263,314.3 264,314.1 265,313.9 266,313.7 267,313.5 268,313.3 269,313.1 270,312.9 271,312.7 272,312.6 273,312.4 274,312.2 275,312.1 276,311.9 277,311.7 278,311.6 279,311.4 280,311.2 281,311.1 282,310.9 283,310.7 284,310.5 285,310.4 286,310.2 287,310.0 288,309.9 289,309.7 290,309.5 291,309.4 292,309.3 293,309.1 294,309.0 295,308.9 296,308.8 297,308.6 298,308.5 299,308.4 300,308.2 301,308.1 302,308.0 303,307.8 304,307.7 305,307.6 306,307.5 307,307.3 308,307.2 309,307.1 310,306.9 311,306.7 312,306.4 313,306.2 314,305.9 315,305.7 316,305.5 317,305.2 318,305.0 319,304.7 320,304.5 321,304.1 322,303.6 323,303.2 324,302.8 325,302.4 326,302.0 327,301.6 328,301.2 329,300.8 330,300.4 331,300.1 332,299.7 333,299.3 334,298.9 335,298.5 336,298.2 337,297.8 338,297.4 339,297.0 340,296.6 341,296.1 342,295.6 343,295.1 344,294.6 345,294.1 346,293.6 347,293.1 348,292.6 349,292.1 350,291.6 351,291.1 352,290.6 353,290.0 354,289.5 355,289.0 356,288.5 357,288.0 358,287.5 359,287.0 360,286.4 361,285.9 362,285.4 363,284.9 364,284.4 365,283.9 366,283.4 367,282.9 368,282.4 369,281.9 370,281.4 371,280.9 372,280.4 373,279.9 374,279.4 375,278.9 376,278.4 377,277.9 378,277.4 379,276.9 380,276.4 381,275.8 382,275.3 383,274.7 384,274.2 385,273.6 386,273.1 387,272.5 388,272.0 389,271.4 390,270.9 391,270.3 392,269.8 393,269.2 394,268.7 395,268.1 396,267.6 397,267.0 398,266.5 399,265.9 400,265.3 401,264.7 402,264.0 403,263.3 404,262.6 405,261.9 406,261.2 407,260.6 408,259.9 409,259.2 410,258.5 411,257.8 412,257.2 413,256.5 414,255.8 415,255.1 416,254.4 417,253.8 418,253.1 419,252.4 420,251.7 421,251.1 422,250.5 423,249.9 424,249.3 425,248.8 426,248.1 427,247.5 428,246.9 429,246.3 430,245.7 431,245.1 432,244.4 433,243.7 434,243.0 435,242.4 436,241.7 437,241.0 438,240.4 439,239.7 440,239.0 441,238.4 442,237.7 443,237.0 444,236.4 445,235.7 446,235.0 447,234.3 448,233.7 449,233.0 450,232.3 451,231.7 452,231.0 453,230.3 454,229.7 455,229.0 456,228.3 457,227.7 458,227.0 459,226.4 460,225.7 461,225.1 462,224.4 463,223.7 464,223.1 465,222.4 466,221.8 467,221.1 468,220.5 469,219.8 470,219.2 471,218.5 472,217.8 473,217.2 474,216.5 475,215.9 476,215.2 477,214.7 478,214.1 479,213.5 480,212.9 481,212.3 482,211.7 483,211.1 484,210.5 485,209.9 486,209.3 487,208.7 488,208.1 489,207.4 490,206.7 491,206.1 492,205.4 493,204.7 494,204.1 495,203.4 496,202.7 497,202.1 498,201.5 499,200.9 500,200.3 501,199.7 502,199.1 503,198.4 504,197.8 505,197.2 506,196.6 507,196.0 508,195.3 509,194.7 510,194.1 511,193.2 512,192.4 513,191.5 514,190.7 515,189.9 516,189.0 517,188.2 518,187.3 519,186.5 520,185.7 521,184.9 522,184.1 523,183.3 524,182.5 525,181.7 526,180.9 527,180.1 528,179.3 529,178.5 530,177.7 531,176.9 532,176.1 533,175.3 534,174.5 535,173.7 536,172.9 537,172.1 538,171.3 539,170.5 540,169.7 541,168.9 542,168.2 543,167.5 544,166.7 545,166.0 546,165.3 547,164.5 548,163.8 549,163.0 550,162.3 551,161.7 552,161.0 553,160.3 554,159.7 555,159.0 556,158.4 557,157.7 558,157.1 559,156.4 560,155.7 561,155.1 562,154.5 563,153.9 564,153.3 565,152.7 566,152.1 567,151.5 568,150.9 569,150.3 570,149.6 571,149.0 572,148.4 573,147.8 574,147.2 575,146.6 576,146.2 577,145.8 578,145.4 579,145.0 580,144.6 581,144.2 582,143.8 583,143.4 584,143.0 585,142.6 586,142.2 587,141.8 588,141.4 589,141.0 590,140.6 591,140.2 592,139.7 593,139.3 594,138.9 595,138.5 596,138.0 597,137.6 598,137.2 599,136.8 600,136.3 601,136.0 602,135.7 603,135.4 604,135.0 605,134.7 606,134.4 607,134.0 608,133.7 609,133.4 610,133.1 611,132.7 612,132.4 613,132.1 614,131.7 615,131.4 616,131.1 617,130.8 618,130.4 619,130.1 620,129.8 621,129.5 622,129.2 623,128.9 624,128.6 625,128.3 626,128.0 627,127.7 628,127.4 629,127.1 630,126.8 631,126.5 632,126.3 633,126.0 634,125.7 635,125.5 636,125.2 637,125.0 638,124.7 639,124.4 640,124.2 641,123.9 642,123.7 643,123.4 644,123.2 645,122.9 646,122.7 647,122.4 648,122.2 649,122.0 650,121.7 651,121.5 652,121.4 653,121.2 654,121.0 655,120.8 656,120.6 657,120.5 658,120.3 659,120.1 660,119.9 661,119.8 662,119.8 663,119.7 664,119.6 665,119.5 666,119.4 667,119.3 668,119.2 669,119.1 670,119.0 671,118.9 672,118.8 673,118.7 674,118.6 675,118.5 676,118.4 677,118.3 678,118.2 679,118.1 680,118.0 681,117.9 682,117.8 683,117.7 684,117.6 685,117.4 686,117.3 687,117.2 688,117.0 689,116.9 690,116.8 691,116.7 692,116.5 693,116.4 694,116.3 695,116.1 696,116.0 697,115.9 698,115.7 699,115.6 700,115.5 701,115.3 702,115.2 703,115.1 704,115.0 705,114.9 706,114.7 707,114.6 708,114.5 709,114.4 710,114.3 711,114.1 712,114.0 713,113.9 714,113.8 715,113.6 716,113.5 717,113.4 718,113.3 719,113.2 720,113.1 721,113.1 722,113.1 723,113.1 724,113.1 725,113.1 726,113.1 727,113.1 728,113.1 729,113.1 730,113.0 731,113.0 732,113.0 733,113.0 734,113.0 735,113.0 736,113.0 737,113.0 738,113.0 739,113.0 740,113.0 741,113.0 742,113.0 743,113.0 744,113.0 745,113.0 746,113.0 747,113.0 748,113.0 749,113.0 750,113.0 751,113.0 752,113.0 753,113.0 754,113.0 755,113.0 756,113.0 757,113.0 758,113.0 759,113.0 760,113.0 761,113.0 762,113.0 763,113.0 764,113.0 765,113.0 766,113.0 767,113.0 768,113.0 769,113.0 770,113.0 771,113.0 772,113.1 773,113.1 774,113.1 775,113.1 776,113.1 777,113.1 778,113.1 779,113.1 780,113.2 781,113.4 782,113.6 783,113.8 784,113.9 785,114.0 786,114.1 787,114.2 788,114.3 789,114.3 790,114.4 791,114.5 792,114.6 793,114.7 794,114.7 795,114.8 796,114.9 797,115.0 798,115.0 799,115.1 800,115.1 801,115.1 802,115.2 803,115.2 804,115.3 805,115.3 806,115.4 807,115.4 808,115.5 809,115.5 810,115.5 811,115.6 812,115.6 813,115.7 814,115.8 815,115.9 816,116.0 817,116.1 818,116.2 819,116.2 820,116.4 821,116.5 822,116.5 823,116.7 824,116.8 825,116.8 826,117.0 827,117.0 828,117.2 829,117.2 830,117.4 831,117.5 832,117.6 833,117.7 834,117.8 835,117.9 836,117.9 837,118.0 838,118.1 839,118.2 840,118.3 841,118.4 842,118.5 843,118.6 844,118.7 845,118.8 846,118.8 847,118.9 848,119.0 849,119.1 850,119.2 851,119.2 852,119.3 853,119.4 854,119.5 855,119.6 856,119.6 857,119.7 858,119.8 859,119.9 860,120.0 861,120.1 862,120.2 863,120.3 864,120.4 865,120.5 866,120.6 867,120.7 868,120.9 869,121.0 870,121.1 871,121.2 872,121.3 873,121.4 874,121.6 875,121.7 876,121.8 877,121.9 878,122.0 879,122.1 880,122.2 881,122.4 882,122.5 883,122.6 884,122.8 885,122.9 886,123.0 887,123.2 888,123.3 889,123.5 890,123.6 891,123.7 892,123.9 893,124.0 894,124.1 895,124.3 896,124.4 897,124.5 898,124.7 899,124.8 900,124.9 901,125.1 902,125.2 903,125.3 904,125.5 905,125.6 906,125.7 907,125.9 908,126.0 909,126.1 910,126.3 911,126.4 912,126.5 913,126.7 914,126.8 915,126.9 916,127.0 917,127.1 918,127.2 919,127.3 920,127.5 921,127.5 922,127.6 923,127.8 924,127.9 925,128.0 925,130.1 924,130.0 923,129.9 922,129.8 921,129.7 920,129.6 919,129.5 918,129.4 917,129.3 916,129.2 915,129.1 914,128.9 913,128.8 912,128.7 911,128.5 910,128.4 909,128.3 908,128.1 907,128.0 906,127.9 905,127.7 904,127.6 903,127.5 902,127.3 901,127.2 900,127.1 899,126.9 898,126.8 897,126.7 896,126.5 895,126.4 894,126.3 893,126.1 892,126.0 891,125.8 890,125.7 889,125.6 888,125.4 887,125.3 886,125.2 885,125.0 884,124.9 883,124.8 882,124.6 881,124.5 880,124.4 879,124.2 878,124.1 877,124.0 876,123.9 875,123.8 874,123.7 873,123.6 872,123.4 871,123.3 870,123.2 869,123.1 868,123.0 867,122.9 866,122.7 865,122.6 864,122.5 863,122.4 862,122.3 861,122.2 860,122.0 859,122.0 858,121.9 857,121.8 856,121.7 855,121.6 854,121.6 853,121.5 852,121.4 851,121.3 850,121.2 849,121.2 848,121.1 847,121.0 846,120.9 845,120.8 844,120.8 843,120.7 842,120.6 841,120.5 840,120.4 839,120.3 838,120.2 837,120.1 836,120.0 835,119.9 834,119.8 833,119.7 832,119.6 831,119.5 830,119.5 829,119.3 828,119.2 827,119.1 826,119.0 825,118.9 824,118.8 823,118.8 822,118.6 821,118.5 820,118.5 819,118.3 818,118.2 817,118.1 816,118.0 815,117.9 814,117.8 813,117.7 812,117.7 811,117.6 810,117.6 809,117.6 808,117.5 807,117.5 806,117.4 805,117.4 804,117.3 803,117.3 802,117.2 801,117.2 800,117.2 799,117.1 798,117.1 797,117.0 796,117.0 795,116.9 794,116.8 793,116.7 792,116.7 791,116.6 790,116.5 789,116.4 788,116.4 787,116.3 786,116.2 785,116.1 784,116.1 783,115.9 782,115.7 781,115.5 780,115.3 779,115.1 778,115.1 777,115.1 776,115.1 775,115.1 774,115.1 773,115.1 772,115.1 771,115.1 770,115.1 769,115.1 768,115.1 767,115.0 766,115.0 765,115.0 764,115.0 763,115.0 762,115.0 761,115.0 760,115.0 759,115.0 758,115.0 757,115.0 756,115.0 755,115.0 754,115.0 753,115.0 752,115.0 751,115.0 750,115.0 749,115.0 748,115.0 747,115.0 746,115.0 745,115.0 744,115.0 743,115.0 742,115.0 741,115.0 740,115.0 739,115.0 738,115.0 737,115.0 736,115.0 735,115.1 734,115.1 733,115.1 732,115.1 731,115.1 730,115.1 729,115.1 728,115.1 727,115.1 726,115.1 725,115.1 724,115.1 723,115.1 722,115.1 721,115.1 720,115.1 719,115.3 718,115.4 717,115.5 716,115.6 715,115.8 714,115.9 713,116.0 712,116.1 711,116.2 710,116.4 709,116.5 708,116.6 707,116.7 706,116.9 705,117.0 704,117.1 703,117.2 702,117.3 701,117.5 700,117.6 699,117.7 698,117.9 697,118.0 696,118.1 695,118.2 694,118.4 693,118.5 692,118.6 691,118.8 690,118.9 689,119.0 688,119.2 687,119.3 686,119.4 685,119.6 684,119.7 683,119.8 682,119.9 681,120.0 680,120.1 679,120.2 678,120.3 677,120.4 676,120.5 675,120.6 674,120.8 673,120.8 672,120.9 671,121.0 670,121.1 669,121.2 668,121.3 667,121.4 666,121.5 665,121.6 664,121.7 663,121.8 662,121.9 661,122.0 660,122.1 659,122.2 658,122.4 657,122.6 656,122.8 655,123.0 654,123.2 653,123.3 652,123.5 651,123.7 650,123.9 649,124.1 648,124.4 647,124.7 646,124.9 645,125.2 644,125.4 643,125.7 642,125.9 641,126.2 640,126.4 639,126.7 638,126.9 637,127.2 636,127.5 635,127.7 634,128.0 633,128.2 632,128.5 631,128.8 630,129.0 629,129.3 628,129.6 627,129.9 626,130.2 625,130.5 624,130.8 623,131.1 622,131.4 621,131.7 620,132.0 619,132.4 618,132.7 617,133.0 616,133.4 615,133.7 614,134.0 613,134.4 612,134.7 611,135.0 610,135.3 609,135.7 608,136.0 607,136.3 606,136.7 605,137.0 604,137.3 603,137.7 602,138.0 601,138.3 600,138.7 599,139.1 598,139.5 597,140.0 596,140.4 595,140.8 594,141.2 593,141.7 592,142.1 591,142.5 590,142.9 589,143.4 588,143.8 587,144.2 586,144.6 585,145.0 584,145.4 583,145.8 582,146.2 581,146.6 580,147.0 579,147.4 578,147.8 577,148.2 576,148.6 575,149.0 574,149.6 573,150.3 572,150.9 571,151.5 570,152.2 569,152.8 568,153.4 567,154.0 566,154.6 565,155.3 564,155.9 563,156.5 562,157.1 561,157.7 560,158.3 559,158.9 558,159.6 557,160.2 556,160.9 555,161.6 554,162.2 553,162.9 552,163.6 551,164.2 550,164.9 549,165.6 548,166.4 547,167.1 546,167.9 545,168.6 544,169.3 543,170.1 542,170.8 541,171.6 540,172.3 539,173.1 538,173.9 537,174.7 536,175.5 535,176.3 534,177.1 533,177.9 532,178.7 531,179.5 530,180.3 529,181.1 528,181.9 527,182.7 526,183.5 525,184.3 524,185.1 523,185.9 522,186.7 521,187.5 520,188.3 519,189.2 518,190.0 517,190.9 516,191.7 515,192.5 514,193.4 513,194.2 512,195.0 511,195.9 510,196.7 509,197.3 508,197.9 507,198.5 506,199.1 505,199.7 504,200.3 503,201.0 502,201.6 501,202.2 500,202.8 499,203.4 498,204.0 497,204.6 496,205.3 495,205.9 494,206.6 493,207.3 492,207.9 491,208.6 490,209.3 489,209.9 488,210.6 487,211.3 486,211.8 485,212.4 484,213.0 483,213.6 482,214.2 481,214.8 480,215.4 479,216.0 478,216.6 477,217.2 476,217.8 475,218.4 474,219.1 473,219.7 472,220.4 471,221.0 470,221.7 469,222.4 468,223.0 467,223.7 466,224.3 465,225.0 464,225.6 463,226.3 462,226.9 461,227.6 460,228.3 459,228.9 458,229.6 457,230.2 456,230.9 455,231.5 454,232.2 453,232.9 452,233.6 451,234.2 450,234.9 449,235.6 448,236.2 447,236.9 446,237.6 445,238.2 444,238.9 443,239.6 442,240.2 441,240.9 440,241.6 439,242.3 438,242.9 437,243.6 436,244.3 435,244.9 434,245.6 433,246.3 432,246.9 431,247.6 430,248.3 429,248.9 428,249.5 427,250.1 426,250.7 425,251.2 424,251.9 423,252.5 422,253.1 421,253.7 420,254.3 419,254.9 418,255.6 417,256.3 416,257.0 415,257.7 414,258.4 413,259.0 412,259.7 411,260.4 410,261.1 409,261.8 408,262.4 407,263.1 406,263.8 405,264.5 404,265.2 403,265.8 402,266.5 401,267.2 400,267.9 399,268.4 398,268.9 397,269.5 396,270.0 395,270.6 394,271.1 393,271.7 392,272.2 391,272.8 390,273.3 389,273.9 388,274.4 387,275.0 386,275.5 385,276.1 384,276.6 383,277.2 382,277.7 381,278.3 380,278.8 379,279.3 378,279.8 377,280.3 376,280.8 375,281.3 374,281.8 373,282.3 372,282.8 371,283.3 370,283.8 369,284.3 368,284.8 367,285.3 366,285.8 365,286.3 364,286.8 363,287.3 362,287.8 361,288.4 360,288.9 359,289.4 358,289.9 357,290.4 356,290.9 355,291.4 354,292.0 353,292.5 352,293.0 351,293.5 350,294.0 349,294.5 348,295.0 347,295.5 346,296.0 345,296.5 344,297.0 343,297.5 342,298.0 341,298.5 340,299.0 339,299.4 338,299.7 337,300.1 336,300.5 335,300.9 334,301.2 333,301.6 332,302.0 331,302.4 330,302.8 329,303.2 328,303.6 327,304.0 326,304.4 325,304.8 324,305.2 323,305.6 322,306.0 321,306.3 320,306.7 319,307.0 318,307.2 317,307.4 316,307.7 315,307.9 314,308.1 313,308.4 312,308.6 311,308.8 310,309.1 309,309.2 308,309.3 307,309.5 306,309.6 305,309.7 304,309.8 303,310.0 302,310.1 301,310.2 300,310.4 299,310.5 298,310.6 297,310.8 296,310.9 295,311.0 294,311.1 293,311.3 292,311.4 291,311.5 290,311.7 289,311.8 288,312.0 287,312.2 286,312.4 285,312.5 284,312.7 283,312.9 282,313.0 281,313.2 280,313.4 279,313.5 278,313.7 277,313.9 276,314.1 275,314.2 274,314.4 273,314.6 272,314.7 271,314.9 270,315.1 269,315.3 268,315.5 267,315.7 266,315.9 265,316.1 264,316.3 263,316.5 262,316.7 261,316.9 260,317.1 259,317.3 258,317.5 257,317.7 256,317.9 255,318.1 254,318.3 253,318.5 252,318.7 251,318.8 250,319.0 249,319.2 248,319.3 247,319.5 246,319.7 245,319.8 244,320.0 243,320.2 242,320.3 241,320.5 240,320.7 239,320.8 238,321.0 237,321.1 236,321.3 235,321.4 234,321.6 233,321.7 232,321.9 231,322.0 230,322.2 229,322.3 228,322.5 227,322.6 226,322.8 225,322.9 224,323.1 223,323.2 222,323.4 221,323.5 220,323.7 219,323.9 218,324.1 217,324.3 216,324.4 215,324.6 214,324.8 213,325.0 212,325.2 211,325.4 210,325.6 209,325.8 208,326.0 207,326.2 206,326.3 205,326.5 204,326.7 203,326.9 202,327.1 201,327.3 200,327.5 199,327.6 198,327.8 197,328.0 196,328.1 195,328.3 194,328.4 193,328.6 192,328.8 191,328.9 190,329.1 189,329.2 188,329.4 187,329.6 186,329.7 185,329.9 184,330.0 183,330.2 182,330.4 181,330.5 180,330.7 179,330.9 178,331.1 177,331.3 176,331.5 175,331.7 174,331.9 173,332.1 172,332.3 171,332.5 170,332.7 169,332.9 168,333.1 167,333.3 166,333.5 165,333.7 164,333.9 163,334.1 162,334.3 161,334.5 160,334.7 159,334.9 158,335.0 157,335.2 156,335.4 155,335.6 154,335.8 153,335.9 152,336.1 151,336.3 150,336.5 149,336.7 148,336.8 147,337.0 146,337.2 145,337.4 144,337.6 143,337.7 142,337.9 141,338.1 140,338.3 139,338.5 138,338.7 137,338.9 136,339.0 135,339.2 134,339.4 133,339.6 132,339.8 131,340.0 130,340.2 129,340.4 128,340.6 127,340.8 126,340.9 125,341.1 124,341.3 123,341.5 122,341.7 121,341.9 120,342.1 119,342.2 118,342.3 117,342.4 116,342.5 115,342.7 114,342.8 113,342.9 112,343.0 111,343.1 110,343.3 109,343.4 108,343.5 107,343.6 106,343.7 105,343.8 104,343.8 103,343.9 102,344.0 101,344.1 100,344.2 99,344.3 98,344.4 97,344.5 96,344.6 95,344.7 94,344.8 93,344.8 92,344.9 91,344.9 90,344.9 89,345.0 88,345.0 87,345.0 86,345.0 85,345.0 84,345.0 83,345.0" fill="#000000"/>
</g>
<g stroke="#a0a0a0" stroke-width="1" stroke-dasharray="2,2" shape-rendering="crispEdges">
<line x1="84" y1="85.5" x2="925" y2="85.5"/>
<line x1="84" y1="114.5" x2="925" y2="114.5"/>
<line x1="84" y1="142.5" x2="925" y2="142.5"/>
<line x1="84" y1="171.5" x2="925" y2="171.5"/>
<line x1="84" y1="199.5" x2="925" y2="199.5"/>
<line x1="84" y1="228.5" x2="925" y2="228.5"/>
<line x1="84" y1="256.5" x2="925" y2="256.5"/>
<line x1="84" y1="285.5" x2="925" y2="285.5"/>
<line x1="84" y1="313.5" x2="925" y2="313.5"/>
<line x1="84" y1="342.5" x2="925" y2="342.5"/>
<line x1="140.5" y1="57" x2="140.5" y2="370"/>
<line x1="252.5" y1="57" x2="252.5" y2="370"/>
<line x1="364.5" y1="57" x2="364.5" y2="370"/>
<line x1="476.5" y1="57" x2="476.5" y2="370"/>
<line x1="589.5" y1="57" x2="589.5" y2="370"/>
<line x1="701.5" y1="57" x2="701.5" y2="370"/>
<line x1="813.5" y1="57" x2="813.5" y2="370"/>
</g>
<g shape-rendering="crispEdges"><line x1="565.5" y1="57" x2="565.5" y2="370" stroke="#ff0000" stroke-width="1"/></g>
<g stroke="#000" stroke-width="1" shape-rendering="crispEdges">
<line x1="84" y1="57.5" x2="89" y2="57.5"/><line x1="921" y1="57.5" x2="926" y2="57.5"/>
<line x1="84" y1="85.5" x2="89" y2="85.5"/><line x1="921" y1="85.5" x2="926" y2="85.5"/>
<line x1="84" y1="114.5" x2="89" y2="114.5"/><line x1="921" y1="114.5" x2="926" y2="114.5"/>
<line x1="84" y1="142.5" x2="89" y2="142.5"/><line x1="921" y1="142.5" x2="926" y2="142.5"/>
<line x1="84" y1="171.5" x2="89" y2="171.5"/><line x1="921" y1="171.5" x2="926" y2="171.5"/>
<line x1="84" y1="199.5" x2="89" y2="199.5"/><line x1="921" y1="199.5" x2="926" y2="199.5"/>
<line x1="84" y1="228.5" x2="89" y2="228.5"/><line x1="921" y1="228.5" x2="926" y2="228.5"/>
<line x1="84" y1="256.5" x2="89" y2="256.5"/><line x1="921" y1="256.5" x2="926" y2="256.5"/>
<line x1="84" y1="285.5" x2="89" y2="285.5"/><line x1="921" y1="285.5" x2="926" y2="285.5"/>
<line x1="84" y1="313.5" x2="89" y2="313.5"/><line x1="921" y1="313.5" x2="926" y2="313.5"/>
<line x1="84" y1="342.5" x2="89" y2="342.5"/><line x1="921" y1="342.5" x2="926" y2="342.5"/>
<line x1="84" y1="370.5" x2="89" y2="370.5"/><line x1="921" y1="370.5" x2="926" y2="370.5"/>
<line x1="84.5" y1="57" x2="84.5" y2="60"/><line x1="84.5" y1="371" x2="84.5" y2="368"/>
<line x1="112.5" y1="57" x2="112.5" y2="60"/><line x1="112.5" y1="371" x2="112.5" y2="368"/>
<line x1="140.5" y1="57" x2="140.5" y2="62"/><line x1="140.5" y1="371" x2="140.5" y2="366"/>
<line x1="168.5" y1="57" x2="168.5" y2="60"/><line x1="168.5" y1="371" x2="168.5" y2="368"/>
<line x1="196.5" y1="57" x2="196.5" y2="60"/><line x1="196.5" y1="371" x2="196.5" y2="368"/>
<line x1="224.5" y1="57" x2="224.5" y2="60"/><line x1="224.5" y1="371" x2="224.5" y2="368"/>
<line x1="252.5" y1="57" x2="252.5" y2="62"/><line x1="252.5" y1="371" x2="252.5" y2="366"/>
<line x1="280.5" y1="57" x2="280.5" y2="60"/><line x1="280.5" y1="371" x2="280.5" y2="368"/>
<line x1="308.5" y1="57" x2="308.5" y2="60"/><line x1="308.5" y1="371" x2="308.5" y2="368"/>
<line x1="336.5" y1="57" x2="336.5" y2="60"/><line x1="336.5" y1="371" x2="336.5" y2="368"/>
<line x1="364.5" y1="57" x2="364.5" y2="62"/><line x1="364.5" y1="371" x2="364.5" y2="366"/>
<line x1="392.5" y1="57" x2="392.5" y2="60"/><line x1="392.5" y1="371" x2="392.5" y2="368"/>
<line x1="420.5" y1="57" x2="420.5" y2="60"/><line x1="420.5" y1="371" x2="420.5" y2="368"/>
<line x1="448.5" y1="57" x2="448.5" y2="60"/><line x1="448.5" y1="371" x2="448.5" y2="368"/>
<line x1="476.5" y1="57" x2="476.5" y2="62"/><line x1="476.5" y1="371" x2="476.5" y2="366"/>
<line x1="504.5" y1="57" x2="504.5" y2="60"/><line x1="504.5" y1="371" x2="504.5" y2="368"/>
<line x1="533.5" y1="57" x2="533.5" y2="60"/><line x1="533.5" y1="371" x2="533.5" y2="368"/>
<line x1="561.5" y1="57" x2="561.5" y2="60"/><line x1="561.5" y1="371" x2="561.5" y2="368"/>
<line x1="589.5" y1="57" x2="589.5" y2="62"/><line x1="589.5" y1="371" x2="589.5" y2="366"/>
<line x1="617.5" y1="57" x2="617.5" y2="60"/><line x1="617.5" y1="371" x2="617.5" y2="368"/>
<line x1="645.5" y1="57" x2="645.5" y2="60"/><line x1="645.5" y1="371" x2="645.5" y2="368"/>
<line x1="673.5" y1="57" x2="673.5" y2="60"/><line x1="673.5" y1="371" x2="673.5" y2="368"/>
<line x1="701.5" y1="57" x2="701.5" y2="62"/><line x1="701.5" y1="371" x2="701.5" y2="366"/>
<line x1="729.5" y1="57" x2="729.5" y2="60"/><line x1="729.5" y1="371" x2="729.5" y2="368"/>
<line x1="757.5" y1="57" x2="757.5" y2="60"/><line x1="757.5" y1="371" x2="757.5" y2="368"/>
<line x1="785.5" y1="57" x2="785.5" y2="60"/><line x1="785.5" y1="371" x2="785.5" y2="368"/>
<line x1="813.5" y1="57" x2="813.5" y2="62"/><line x1="813.5" y1="371" x2="813.5" y2="366"/>
<line x1="841.5" y1="57" x2="841.5" y2="60"/><line x1="841.5" y1="371" x2="841.5" y2="368"/>
<line x1="869.5" y1="57" x2="869.5" y2="60"/><line x1="869.5" y1="371" x2="869.5" y2="368"/>
<line x1="897.5" y1="57" x2="897.5" y2="60"/><line x1="897.5" y1="371" x2="897.5" y2="368"/>
<line x1="925.5" y1="57" x2="925.5" y2="62"/><line x1="925.5" y1="371" x2="925.5" y2="366"/>
<rect x="84.5" y="57.5" width="841" height="313" fill="none"/>
</g>
<g style="opacity:0.999">
<text transform="translate(70,61.9) scale(1,0.95)" text-anchor="end">4.4</text>
<text transform="translate(70,89.9) scale(1,0.95)" text-anchor="end">4.3</text>
<text transform="translate(70,118.9) scale(1,0.95)" text-anchor="end">4.2</text>
<text transform="translate(70,146.9) scale(1,0.95)" text-anchor="end">4.1</text>
<text transform="translate(70,175.9) scale(1,0.95)" text-anchor="end">4</text>
<text transform="translate(70,203.9) scale(1,0.95)" text-anchor="end">3.9</text>
<text transform="translate(70,232.9) scale(1,0.95)" text-anchor="end">3.8</text>
<text transform="translate(70,260.9) scale(1,0.95)" text-anchor="end">3.7</text>
<text transform="translate(70,289.9) scale(1,0.95)" text-anchor="end">3.6</text>
<text transform="translate(70,317.9) scale(1,0.95)" text-anchor="end">3.5</text>
<text transform="translate(70,346.9) scale(1,0.95)" text-anchor="end">3.4</text>
<text transform="translate(70,374.9) scale(1,0.95)" text-anchor="end">3.3</text>
<text transform="translate(139,394) scale(1,0.95)" text-anchor="middle">27.02</text>
<text transform="translate(251,394) scale(1,0.95)" text-anchor="middle">29.02</text>
<text transform="translate(363,394) scale(1,0.95)" text-anchor="middle">02.03</text>
<text transform="translate(475,394) scale(1,0.95)" text-anchor="middle">04.03</text>
<text transform="translate(588,394) scale(1,0.95)" text-anchor="middle">06.03</text>
<text transform="translate(700,394) scale(1,0.95)" text-anchor="middle">08.03</text>
<text transform="translate(812,394) scale(1,0.95)" text-anchor="middle">10.03</text>
<text transform="translate(924,394) scale(1,0.95)" text-anchor="middle">12.03</text>
<text transform="translate(310,32.7) scale(1,0.95)" textLength="381.8" lengthAdjust="spacing">Pohjavesivarasto / Groundwater Storage&#160;&#160;&#160;Kattilakoski</text>
<text transform="translate(502,422) scale(1,0.95)" text-anchor="middle">Päivä / Date</text>
<text transform="translate(24,444) scale(1,0.95)">2024-03-05 15:12:14 EET</text>
<text transform="translate(18.5,215) rotate(-90) scale(1,0.95)" text-anchor="middle">Pohjavesivarasto / Groundwater Storage (mm)</text>
<text transform="translate(1022.8,71.5) scale(1,0.95)" text-anchor="end">meps</text>
<rect x="1034" y="62" width="46" height="10" fill="#ccccff" shape-rendering="crispEdges"/>
<text transform="translate(1022.8,90.5) scale(1,0.95)" text-anchor="end">meps-med</text>
<rect x="1034" y="85" width="46" height="2" fill="#3535dd" shape-rendering="crispEdges"/>
<text transform="translate(1022.8,109.5) scale(1,0.95)" text-anchor="end">min-max</text>
<rect x="1034" y="100" width="46" height="10" fill="#ffff64" shape-rendering="crispEdges"/>
<text transform="translate(1022.8,128.5) scale(1,0.95)" text-anchor="end">95%-5%</text>
<rect x="1034" y="119" width="46" height="10" fill="#b4ff64" shape-rendering="crispEdges"/>
<text transform="translate(1022.8,147.5) scale(1,0.95)" text-anchor="end">75%-25%</text>
<rect x="1034" y="138" width="46" height="10" fill="#00ff00" shape-rendering="crispEdges"/>
<text transform="translate(1022.8,166.5) scale(1,0.95)" text-anchor="end">mediaani</text>
<rect x="1034" y="161" width="46" height="2" fill="#007800" shape-rendering="crispEdges"/>
<text transform="translate(1022.8,185.5) scale(1,0.95)" text-anchor="end">Har.</text>
<rect x="1034" y="180" width="46" height="2" fill="#ff7800" shape-rendering="crispEdges"/>
<text transform="translate(1022.8,204.5) scale(1,0.95)" text-anchor="end">IL</text>
<rect x="1034" y="199" width="46" height="2" fill="#ff0000" shape-rendering="crispEdges"/>
<text transform="translate(1022.8,223.5) scale(1,0.95)" text-anchor="end">Det.</text>
<rect x="1034" y="218" width="46" height="2" fill="#000000" shape-rendering="crispEdges"/>
</g>
</svg>
</body></html>
